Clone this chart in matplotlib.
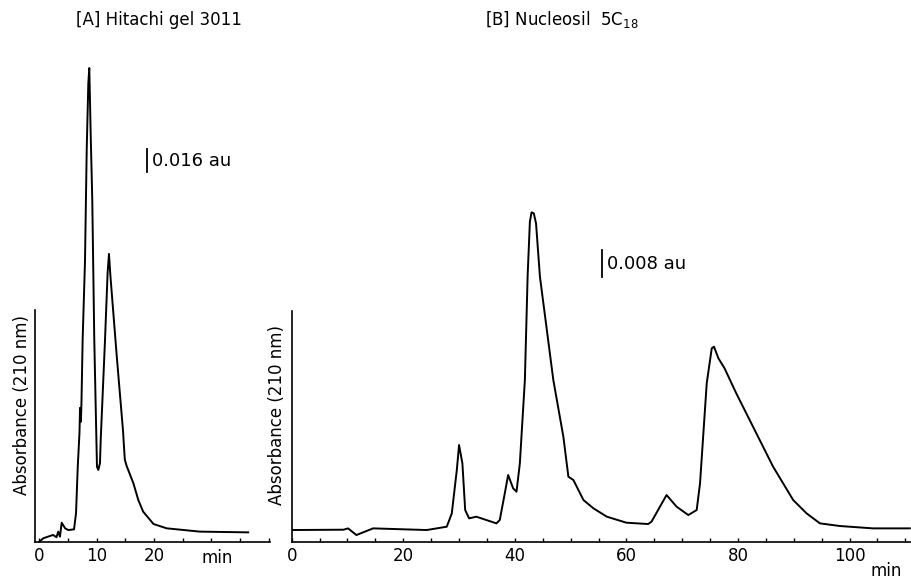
import matplotlib
matplotlib.use("Agg")
import matplotlib.pyplot as plt
import numpy as np

# [A] Hitachi gel 3011 — 保留时间 (min) / 吸光度 (au)
a_time = [0.0, 0.7, 2.4, 3.0, 3.3, 3.6, 3.9, 4.5, 5.05, 6.05, 6.4, 6.7, 7.0, 7.1,
          7.25, 7.35, 7.55, 7.96, 8.26, 8.54, 8.71, 8.95, 9.23, 9.58, 9.95, 10.05,
          10.28, 10.57, 10.7, 11.45, 11.9, 12.14, 12.4, 13.5, 14.6, 14.7, 14.9,
          15.2, 16.4, 17.25, 18.1, 19.9, 22.2, 28.0, 36.4]
a_abs = [0.0, 0.0024, 0.0047, 0.0031, 0.0070, 0.0035, 0.0132, 0.0093, 0.0081,
         0.0086, 0.0198, 0.0522, 0.0757, 0.0931, 0.0835, 0.0974, 0.1404, 0.1949,
         0.2726, 0.3188, 0.3295, 0.2840, 0.2378, 0.1404, 0.0708, 0.0522, 0.0499,
         0.0546, 0.0708, 0.1404, 0.1868, 0.2002, 0.1844, 0.1288, 0.0766, 0.0696,
         0.0571, 0.0529, 0.0406, 0.0290, 0.0209, 0.0123, 0.0093, 0.0070, 0.0065]

# [B] Nucleosil 5C18
b_time = [0.0, 9.3, 10.1, 11.6, 14.6, 24.2, 27.8, 28.7, 29.6, 30.0, 30.6, 31.1,
          31.8, 33.1, 34.9, 36.7, 37.3, 38.2, 38.8, 39.7, 40.3, 40.9, 41.8, 42.3,
          42.7, 43.0, 43.4, 43.8, 44.5, 46.9, 48.7, 49.6, 50.5, 52.3, 54.1, 56.5,
          60.0, 63.9, 64.5, 67.2, 69.0, 71.1, 72.6, 73.2, 73.8, 74.4, 75.3, 75.7,
          76.5, 77.6, 79.7, 82.7, 86.3, 89.9, 92.3, 94.7, 98.3, 104.2, 110.8]
b_abs = [0.0035, 0.0036, 0.0040, 0.0020, 0.0040, 0.0035, 0.0045, 0.0085, 0.0215,
         0.0290, 0.0235, 0.0095, 0.0070, 0.0075, 0.0065, 0.0055, 0.0065, 0.0145,
         0.0200, 0.0160, 0.0150, 0.0235, 0.0485, 0.0800, 0.0960, 0.0988, 0.0985,
         0.0955, 0.0795, 0.0485, 0.0315, 0.0195, 0.0185, 0.0125, 0.0100, 0.0075,
         0.0057, 0.0053, 0.0060, 0.0140, 0.0105, 0.0080, 0.0095, 0.0175, 0.0325,
         0.0475, 0.0580, 0.0585, 0.0550, 0.0520, 0.0445, 0.0345, 0.0225, 0.0125,
         0.0085, 0.0055, 0.0047, 0.0040, 0.0040]

a_ticks = [0, 10, 20]
b_ticks = [0, 20, 40, 60, 80, 100]

W, H = 912, 583
plt.rcParams['font.family'] = ['DejaVu Sans']


def px_axes(fig, left, right, bottom, top):
    """按像素位置放置坐标轴"""
    return fig.add_axes([left / W, 1 - bottom / H, (right - left) / W, (bottom - top) / H])


def style_axis(ax, spine_top, tick_pos, labels):
    for s in ('top', 'right'):
        ax.spines[s].set_visible(False)
    ax.spines['left'].set_bounds(0, spine_top)
    ax.spines['left'].set_linewidth(1.2)
    ax.spines['bottom'].set_linewidth(1.2)
    ax.set_yticks([])
    ax.set_xticks(tick_pos, labels)
    ax.xaxis.set_minor_locator(matplotlib.ticker.MultipleLocator(5))
    ax.tick_params(axis='x', which='both', direction='in', length=3, width=1,
                   pad=4, labelsize=12)


fig = plt.figure(figsize=(W / 100, H / 100), dpi=100)

# --- A ---
ax_a = px_axes(fig, 35, 270, 541.7, 40)
ax_a.plot(a_time, a_abs, color='black', lw=1.4, solid_joinstyle='round')
ax_a.set_xlim(-0.75, 40.2)
ax_a.set_ylim(0, 0.349)
style_axis(ax_a, 0.161, a_ticks, [str(t) for t in a_ticks])
ax_a.annotate('min', xy=(31, 0), xycoords=('data', 'axes fraction'),
              xytext=(0, -5), textcoords='offset points', ha='center', va='top',
              fontsize=12)
ax_a.plot([18.7, 18.7], [0.257, 0.273], color='black', lw=1.3)
ax_a.text(19.6, 0.265, '0.016 au', va='center', ha='left', fontsize=13)

# --- B ---
ax_b = px_axes(fig, 291.7, 912, 541.7, 40)
ax_b.plot(b_time, b_abs, color='black', lw=1.4, solid_joinstyle='round')
ax_b.set_xlim(0, 111.2)
ax_b.set_ylim(0, 0.1505)
style_axis(ax_b, 0.0692, b_ticks, [str(t) for t in b_ticks])
ax_b.annotate('min', xy=(106.5, 0), xycoords=('data', 'axes fraction'),
              xytext=(0, -21), textcoords='offset points', ha='center', va='center',
              fontsize=12)
ax_b.plot([55.7, 55.7], [0.0794, 0.0874], color='black', lw=1.3)
ax_b.text(56.6, 0.0834, '0.008 au', va='center', ha='left', fontsize=13)

# 标题和纵轴标签
fig.text(76 / W, 1 - 20 / H, '[A] Hitachi gel 3011', ha='left', va='center', fontsize=12)
fig.text(485 / W, 1 - 20 / H, '[B] Nucleosil  5C$_{18}$', ha='left', va='center', fontsize=12)
fig.text(21.7 / W, 1 - 405 / H, 'Absorbance (210 nm)', rotation=90,
         ha='center', va='center', fontsize=12)
fig.text(276.7 / W, 1 - 415 / H, 'Absorbance (210 nm)', rotation=90,
         ha='center', va='center', fontsize=12)

fig.savefig('out.png', dpi=100)
plt.close(fig)
